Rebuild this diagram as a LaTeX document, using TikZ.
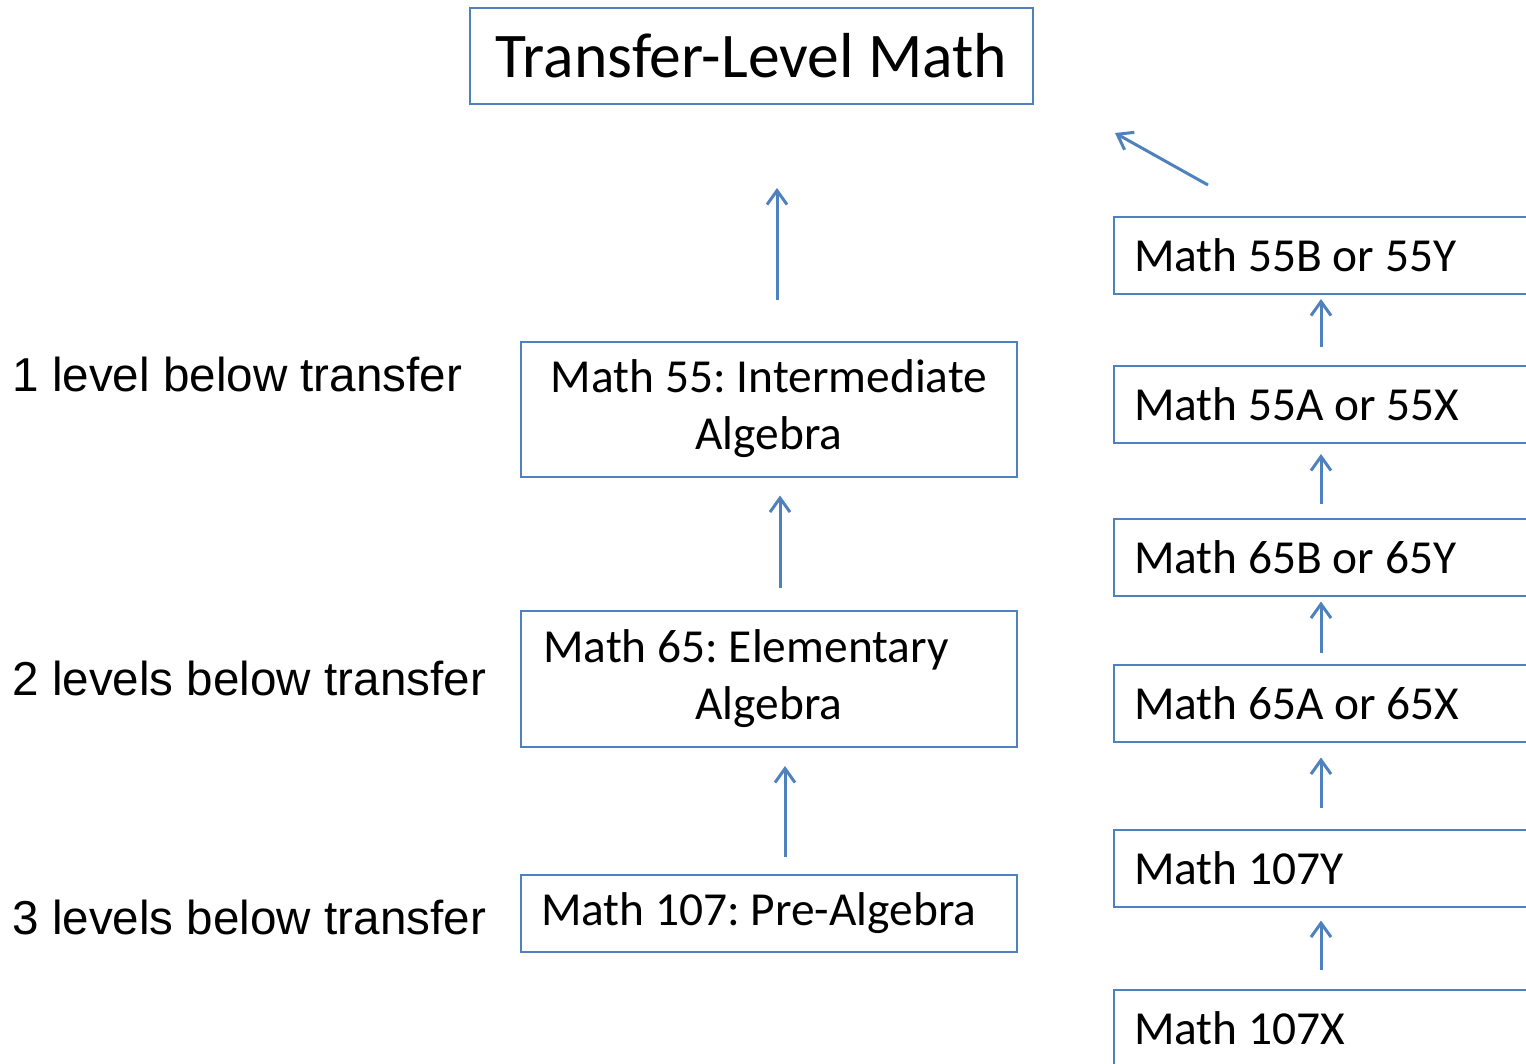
\documentclass[tikz,border=0pt]{standalone}
\usepackage{fontspec}
\setmainfont{Carlito}
\newfontfamily\labelfont{Liberation Sans}
\usetikzlibrary{arrows.meta}
\definecolor{boxblue}{RGB}{79,129,189}
\frenchspacing

\begin{document}
\begin{tikzpicture}[x=0.5pt,y=-0.5pt,
  box/.style={draw=boxblue, line width=1pt, inner sep=0pt, font=\fontsize{23.7}{28.5}\selectfont},
  lbox/.style={box, align=left, execute at begin node={\spaceskip=0pt\xspaceskip=0pt\relax}},
  rbox/.style={lbox, anchor=west, minimum width=250pt, minimum height=38.5pt, text width=230pt},
  lvl/.style={anchor=west, inner sep=0pt, font=\labelfont\fontsize{23.8}{28.5}\selectfont},
  up/.style={draw=boxblue, line width=1.5pt, -{Straight Barb[length=7pt,width=10pt]}}]
  \useasboundingbox (0,0) rectangle (1526,1064);
  \clip (0,0) rectangle (1526,1064);

  % Nodes
  % Top
  \node[box, minimum width=281.5pt, minimum height=48pt, font=\fontsize{31.8}{37}\selectfont] (trans) at (751.5,56) {Transfer-Level Math};

  % Middle column
  \node[box, minimum width=248pt, minimum height=67.5pt, align=center] (m55) at (769,409) {Math 55: Intermediate\\Algebra};
  \node[box, minimum width=248pt, minimum height=68pt, align=center] (m65) at (769,679) {Math 65: Elementary\hspace*{23pt}\\Algebra};
  \node[lbox, minimum width=248pt, minimum height=38.5pt, text width=228pt] (m107) at (769,913.5) {Math 107: Pre-Algebra};

  % Levels
  \node[lvl] (l1) at (12,374) {1 level below transfer};
  \node[lvl] (l2) at (12,678) {2 levels below transfer};
  \node[lvl] (l3) at (12,917) {3 levels below transfer};

  % Right column
  \node[rbox] (r55b) at (1113,255.5) {Math 55B or 55Y};
  \node[rbox] (r55a) at (1113,404.5) {Math 55A or 55X};
  \node[rbox] (r65b) at (1113,557) {Math 65B or 65Y};
  \node[rbox] (r65a) at (1113,703) {Math 65A or 65X};
  \node[rbox] (r107y) at (1113,868) {Math 107Y};
  \node[rbox] (r107x) at (1113,1028) {Math 107X};

  \coordinate (dgs) at (1208,185);
  \coordinate (dge) at (1115,133);

  % Arrows
  \draw[up, shorten <=8.5pt, shorten >=9pt] ([xshift=8pt]m107.north) -- ([xshift=8pt]m65.south);
  \draw[up, shorten <=11pt, shorten >=9pt] ([xshift=5.5pt]m65.north) -- ([xshift=5.5pt]m55.south);
  \draw[up, shorten <=20pt, shorten >=41.5pt] ([xshift=4pt]m55.north) -- ([xshift=12.75pt]trans.south);

  \draw[up, shorten <=9.5pt, shorten >=6.5pt] ([xshift=104pt]r107x.north west) -- ([xshift=104pt]r107y.south west);
  \draw[up, shorten <=10.5pt, shorten >=7.5pt] ([xshift=104pt]r107y.north west) -- ([xshift=104pt]r65a.south west);
  \draw[up, shorten <=5.5pt, shorten >=2.5pt] ([xshift=104pt]r65a.north west) -- ([xshift=104pt]r65b.south west);
  \draw[up, shorten <=7pt, shorten >=5pt] ([xshift=104pt]r65b.north west) -- ([xshift=104pt]r55a.south west);
  \draw[up, shorten <=9pt, shorten >=2pt] ([xshift=104pt]r55a.north west) -- ([xshift=104pt]r55b.south west);

  \draw[up] (dgs) -- (dge);

\end{tikzpicture}
\end{document}
